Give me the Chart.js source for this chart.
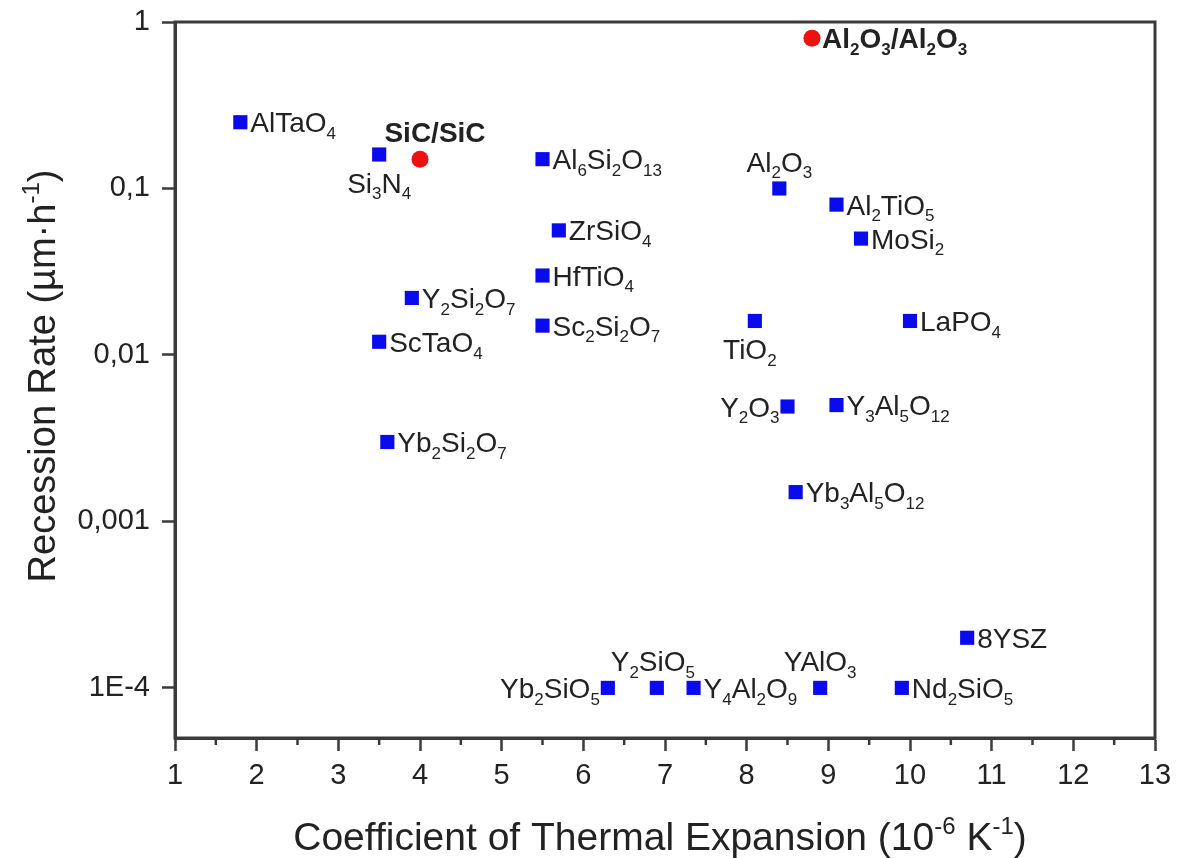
<!DOCTYPE html>
<html>
<head>
<meta charset="utf-8">
<title>Recession rate vs CTE</title>
<script src="https://cdn.jsdelivr.net/npm/chart.js@4.4.1/dist/chart.umd.min.js"></script>
<style>
  html, body { margin: 0; padding: 0; background: #fff; }
  #wrap { width: 1182px; height: 858px; }
</style>
</head>
<body>
<div id="wrap"><canvas id="chart" width="1182" height="858"></canvas></div>
<script>
// Oxides / monolithic materials (blue squares)
const oxideNames = ['AlTaO4', 'Si3N4', 'Al6Si2O13', 'Al2O3', 'Al2TiO5', 'MoSi2', 'ZrSiO4', 'HfTiO4',
    'Y2Si2O7', 'Sc2Si2O7', 'ScTaO4', 'TiO2', 'LaPO4', 'Y2O3', 'Y3Al5O12', 'Yb2Si2O7', 'Yb3Al5O12',
    '8YSZ', 'Yb2SiO5', 'Y2SiO5', 'Y4Al2O9', 'YAlO3', 'Nd2SiO5'];
const oxideCTE = [1.8, 3.5, 5.5, 8.4, 9.1, 9.4, 5.7, 5.5, 3.9, 5.5, 3.5, 8.1, 10.0, 8.5, 9.1, 3.6, 8.6,
    10.7, 6.3, 6.9, 7.35, 8.9, 9.9];
const oxideRate = [0.25, 0.16, 0.15, 0.1, 0.08, 0.05, 0.056, 0.03, 0.022, 0.015, 0.012, 0.016, 0.016,
    0.0049, 0.005, 0.003, 0.0015, 0.0002, 0.0001, 0.0001, 0.0001, 0.0001, 0.0001];

// Composites (red circles)
const cmcNames = ['SiC/SiC', 'Al2O3/Al2O3'];
const cmcCTE = [4.0, 8.8];
const cmcRate = [0.15, 0.8];

// Axis ticks
const xTicks = [1, 2, 3, 4, 5, 6, 7, 8, 9, 10, 11, 12, 13];
const yTickValues = [1e-4, 1e-3, 1e-2, 1e-1, 1];
const yTickLabels = ['1E-4', '0,001', '0,01', '0,1', '1'];

const FONT = "'Liberation Sans', Arial, Helvetica, sans-serif";
const AXIS_COLOR = '#3a3a3a';
const TEXT_COLOR = '#222';

// where a label sits relative to its marker (default: right)
const labelPlace = {
    'Si3N4': 'below', 'TiO2': 'below',
    'Al2O3': 'above', 'Y2SiO5': 'above', 'YAlO3': 'above', 'SiC/SiC': 'above',
    'Y2O3': 'left', 'Yb2SiO5': 'left'
};
const labelShift = { 'SiC/SiC': 15, 'TiO2': -5, 'Y2SiO5': -4 };

// split "Al2O3" into normal / subscript runs
function chemParts(s) {
    const parts = [];
    let prevLetter = false, prevSub = false;
    for (const ch of s) {
        const digit = /[0-9]/.test(ch);
        const sub = digit && (prevLetter || prevSub);
        const last = parts[parts.length - 1];
        if (last && last.sub === sub) last.t += ch;
        else parts.push({ t: ch, sub: sub });
        prevLetter = /[A-Za-z]/.test(ch);
        prevSub = sub;
    }
    return parts;
}

function drawRich(ctx, parts, x, y, align, size, bold, raise) {
    const w = bold ? 'bold ' : '';
    const small = Math.round(size * 0.62);
    let total = 0;
    parts.forEach(p => {
        ctx.font = w + (p.sub ? small : size) + 'px ' + FONT;
        p.w = ctx.measureText(p.t).width;
        total += p.w;
    });
    let cx = x;
    if (align === 'center') cx = x - total / 2;
    else if (align === 'right') cx = x - total;
    const base = y + size * 0.36;
    ctx.textAlign = 'left';
    ctx.textBaseline = 'alphabetic';
    parts.forEach(p => {
        ctx.font = w + (p.sub ? small : size) + 'px ' + FONT;
        const off = p.sub ? (raise ? -size * 0.42 : size * 0.24) : 0;
        ctx.fillText(p.t, cx, base + off);
        cx += p.w;
    });
}

const chemLabels = {
    id: 'chemLabels',
    afterDatasetsDraw(chart) {
        const ctx = chart.ctx;
        ctx.save();
        ctx.fillStyle = TEXT_COLOR;
        chart.data.datasets.forEach((ds, di) => {
            const meta = chart.getDatasetMeta(di);
            meta.data.forEach((pt, i) => {
                const name = ds.names[i];
                const place = labelPlace[name] || 'right';
                const dx = labelShift[name] || 0;
                const parts = chemParts(name);
                const size = 28;
                if (place === 'right') drawRich(ctx, parts, pt.x + 10, pt.y, 'left', size, ds.bold);
                else if (place === 'left') drawRich(ctx, parts, pt.x - 8, pt.y, 'right', size, ds.bold);
                else if (place === 'above') drawRich(ctx, parts, pt.x + dx, pt.y - 27, 'center', size, ds.bold);
                else drawRich(ctx, parts, pt.x + dx, pt.y + 28, 'center', size, ds.bold);
            });
        });
        ctx.restore();
    }
};

const frameAndTitles = {
    id: 'frameAndTitles',
    afterDraw(chart) {
        const ctx = chart.ctx;
        const a = chart.chartArea;
        const xs = chart.scales.x;
        ctx.save();
        // box
        ctx.strokeStyle = AXIS_COLOR;
        ctx.lineWidth = 3;
        ctx.strokeRect(a.left, a.top, a.right - a.left, a.bottom - a.top);
        // minor x ticks
        ctx.lineWidth = 2.5;
        for (let i = 0; i < xTicks.length - 1; i++) {
            const px = xs.getPixelForValue((xTicks[i] + xTicks[i + 1]) / 2);
            ctx.beginPath();
            ctx.moveTo(px, a.bottom);
            ctx.lineTo(px, a.bottom + 7);
            ctx.stroke();
        }
        // axis titles with superscripts
        ctx.fillStyle = TEXT_COLOR;
        const size = 39;
        const xParts = [
            { t: 'Coefficient of Thermal Expansion (10', sub: false },
            { t: '-6', sub: true },
            { t: ' K', sub: false },
            { t: '-1', sub: true },
            { t: ')', sub: false }
        ];
        drawRich(ctx, xParts, 660, 836, 'center', size, false, true);

        ctx.translate(41, 376);
        ctx.rotate(-Math.PI / 2);
        const yParts = [
            { t: 'Recession Rate (µm·h', sub: false },
            { t: '-1', sub: true },
            { t: ')', sub: false }
        ];
        drawRich(ctx, yParts, 0, 0, 'center', 38, false, true);
        ctx.restore();
    }
};

new Chart(document.getElementById('chart'), {
    type: 'scatter',
    data: {
        datasets: [{
            label: 'Monolithic',
            names: oxideNames,
            bold: false,
            data: oxideCTE.map((x, i) => ({ x: x, y: oxideRate[i] })),
            pointStyle: 'rect',
            pointRadius: 10,
            pointHoverRadius: 10,
            backgroundColor: '#0a0aee',
            borderWidth: 0
        }, {
            label: 'CMC',
            names: cmcNames,
            bold: true,
            data: cmcCTE.map((x, i) => ({ x: x, y: cmcRate[i] })),
            pointStyle: 'circle',
            pointRadius: 8.5,
            pointHoverRadius: 8.5,
            backgroundColor: '#ee1111',
            borderWidth: 0
        }]
    },
    options: {
        responsive: false,
        devicePixelRatio: 1,
        animation: false,
        layout: { padding: { top: 22, right: 27, left: 0, bottom: 0 } },
        plugins: {
            legend: { display: false },
            tooltip: { enabled: false }
        },
        scales: {
            x: {
                type: 'linear',
                min: xTicks[0],
                max: xTicks[xTicks.length - 1],
                afterBuildTicks: s => { s.ticks = xTicks.map(v => ({ value: v })); },
                afterFit: s => { s.height = 120; s.paddingLeft = 0; s.paddingRight = 0; },
                grid: { drawOnChartArea: false, tickLength: 13, tickWidth: 2.5, tickColor: AXIS_COLOR },
                border: { display: true, color: AXIS_COLOR, width: 3 },
                ticks: { color: TEXT_COLOR, padding: 8, maxRotation: 0, font: { size: 29, family: FONT } },
                title: { display: false }
            },
            y: {
                type: 'logarithmic',
                min: 5e-5,
                max: 1,
                afterBuildTicks: s => { s.ticks = yTickValues.map(v => ({ value: v })); },
                afterFit: s => { s.width = 175; s.paddingTop = 0; s.paddingBottom = 0; },
                grid: { drawOnChartArea: false, tickLength: 13, tickWidth: 2.5, tickColor: AXIS_COLOR },
                border: { display: true, color: AXIS_COLOR, width: 3 },
                ticks: {
                    color: TEXT_COLOR,
                    padding: 12,
                    font: { size: 29, family: FONT },
                    callback: v => {
                        const k = yTickValues.findIndex(t => Math.abs(Math.log10(t) - Math.log10(v)) < 1e-6);
                        return k >= 0 ? yTickLabels[k] : '';
                    }
                },
                title: { display: false }
            }
        }
    },
    plugins: [chemLabels, frameAndTitles]
});
</script>
</body>
</html>
